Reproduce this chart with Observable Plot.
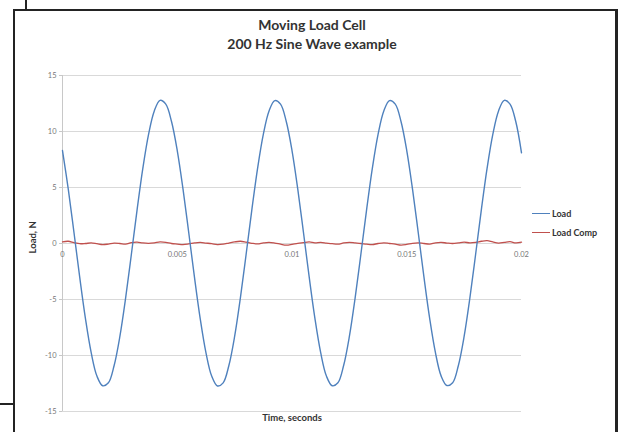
<!DOCTYPE html>
<html>
<head>
<meta charset="utf-8">
<script src="https://cdn.jsdelivr.net/npm/d3@7"></script>
<script src="https://cdn.jsdelivr.net/npm/@observablehq/plot@0.6"></script>
<style>
  html, body { margin: 0; padding: 0; background: #fff; }
  #wrap { position: relative; width: 620px; height: 432px; overflow: hidden; background: #fff; font-family: Lato, "Open Sans", sans-serif; }
  #title { height: 58px; box-sizing: border-box; padding-top: 15px; padding-left: 4px; text-align: center; font-weight: bold; font-size: 14px; line-height: 19px; color: #333; }
  .bar { position: absolute; background: #232323; }
  #legend { position: absolute; left: 532px; top: 204px; font-size: 9px; font-weight: bold; color: #333; }
  #legend div { height: 19px; display: flex; align-items: center; }
  #legend span.sw { display: inline-block; width: 18px; height: 1.5px; margin-right: 2px; }
</style>
</head>
<body>
<div id="wrap">
  <div class="bar" style="left:25px;top:0;width:2px;height:10px"></div>
  <div class="bar" style="left:13px;top:9px;width:605px;height:2px"></div>
  <div class="bar" style="left:13px;top:9px;width:2px;height:423px"></div>
  <div class="bar" style="left:615px;top:9px;width:3px;height:423px"></div>
  <div class="bar" style="left:0;top:403px;width:14px;height:2px"></div>
  <div id="title">Moving Load Cell<br>200 Hz Sine Wave example</div>
  <div id="chart"></div>
  <div id="legend">
    <div><span class="sw" style="background:#4f81bd"></span>Load</div>
    <div><span class="sw" style="background:#c0504d"></span>Load Comp</div>
  </div>
</div>
<script>
// Time step between samples (seconds)
const dt = 0.00025;

// Load, N (blue)
const load = [
  8.30, 4.88, 0.98, -3.01, -6.71, -9.75, -11.84, -12.70, -12.44, -10.89,
  -8.30, -4.88, -0.98, 3.01, 6.71, 9.75, 11.84, 12.78, 12.44, 10.89,
  8.30, 4.88, 0.98, -3.01, -6.71, -9.75, -11.84, -12.72, -12.44, -10.89,
  -8.30, -4.88, -0.98, 3.01, 6.71, 9.75, 11.84, 12.76, 12.44, 10.89,
  8.30, 4.88, 0.98, -3.01, -6.71, -9.75, -11.84, -12.70, -12.44, -10.89,
  -8.30, -4.88, -0.98, 3.01, 6.71, 9.75, 11.84, 12.76, 12.44, 10.89,
  8.30, 4.88, 0.98, -3.01, -6.71, -9.75, -11.84, -12.68, -12.44, -10.89,
  -8.30, -4.88, -0.98, 3.01, 6.71, 9.75, 11.84, 12.78, 12.44, 10.89,
  8.10
];

// Load Comp, N (red)
const comp = [
  0.15, 0.2, 0.08, -0.02, 0.0, 0.05, -0.02, -0.1, -0.05, 0.03, 0.0, -0.06, 0.08, 0.12, 0.05, 0.02, 0.06, 0.14, 0.1, 0.0,
  -0.05, -0.1, -0.04, 0.05, 0.1, 0.04, -0.02, -0.1, -0.06, 0.04, 0.14, 0.2, 0.12, 0.02, -0.04, 0.05, 0.1, 0.04, -0.06, -0.15,
  -0.08, 0.02, 0.08, 0.14, 0.06, 0.1, 0.04, -0.02, -0.06, 0.05, 0.1, 0.05, 0.0, -0.06, -0.1, 0.0, 0.06, 0.0, -0.06, -0.14,
  -0.08, 0.02, 0.06, 0.0, -0.05, 0.06, 0.1, 0.04, 0.0, 0.06, 0.12, 0.06, 0.1, 0.2, 0.26, 0.14, 0.04, 0.1, 0.16, 0.06, 0.12
];

const xTicks = [0, 0.005, 0.01, 0.015, 0.02];
const xTickLabels = ["0", "0.005", "0.01", "0.015", "0.02"];
const yTicks = [-15, -10, -5, 0, 5, 10, 15];

const loadData = load.map((v, i) => ({t: i * dt, v}));
const compData = comp.map((v, i) => ({t: i * dt, v}));

const chart = Plot.plot({
  width: 620,
  height: 374,
  marginLeft: 62,
  marginRight: 99,
  marginTop: 17,
  marginBottom: 21,
  style: {fontFamily: "Lato, 'Open Sans', sans-serif", background: "transparent", overflow: "visible"},
  x: {domain: [0, 0.02], axis: null},
  y: {domain: [-15, 15], axis: null},
  marks: [
    Plot.gridY(yTicks, {stroke: "#d9d9d9", strokeOpacity: 1}),
    Plot.ruleX([0], {stroke: "#c8c8c8"}),
    Plot.axisY(yTicks, {tickSize: 3, stroke: "#c8c8c8", fill: "#777", fontSize: 7.5, tickPadding: 3, tickFormat: d => String(d), label: null}),
    Plot.text(xTicks, {x: d => d, y: 0, text: (d, i) => xTickLabels[i], dy: 11, fontSize: 7.5, fill: "#777"}),
    Plot.line(compData, {x: "t", y: "v", stroke: "#c0504d", strokeWidth: 1.3, curve: "catmull-rom"}),
    Plot.line(loadData, {x: "t", y: "v", stroke: "#4f81bd", strokeWidth: 1.4, curve: "catmull-rom"}),
    Plot.text(["Load, N"], {frameAnchor: "left", dx: -30, dy: 10, rotate: -90, fontWeight: "bold", fontSize: 9.5, fill: "#333"}),
    Plot.text(["Time, seconds"], {frameAnchor: "bottom", dy: 9, fontWeight: "bold", fontSize: 9.5, fill: "#333"})
  ]
});
document.getElementById("chart").appendChild(chart);
</script>
</body>
</html>
